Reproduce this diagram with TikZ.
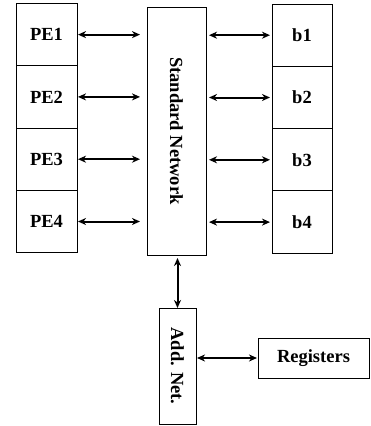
\documentclass[tikz,border=0pt]{standalone}
\usepackage{fontspec}
\setmainfont{Liberation Serif}
\usetikzlibrary{arrows.meta,positioning}

\begin{document}
\begin{tikzpicture}[x=1pt,y=-1pt,>={Stealth[length=8pt,width=7pt,inset=2.5pt]},
    font=\fontsize{18.5}{20}\selectfont\bfseries,
    cell/.style={draw, line width=1pt, outer sep=0pt, minimum width=61pt, minimum height=62.3pt},
    vbox/.style={draw, line width=1pt, outer sep=0pt, rotate=-90},
    link/.style={<->, line width=2pt}]

    % --- Canvas ---
    \useasboundingbox (0,0) rectangle (370,426);

    % --- Processing elements ---
    \node[cell] (PE1) at (46.5,34.6) {PE1};
    \node[cell, below=0pt of PE1] (PE2) {PE2};
    \node[cell, below=0pt of PE2] (PE3) {PE3};
    \node[cell, below=0pt of PE3] (PE4) {PE4};

    % --- Memory banks ---
    \node[cell, minimum width=60pt] (b1) at (302,35.2) {b1};
    \node[cell, minimum width=60pt, below=0pt of b1] (b2) {b2};
    \node[cell, minimum width=60pt, below=0pt of b2] (b3) {b3};
    \node[cell, minimum width=60pt, below=0pt of b3] (b4) {b4};

    % --- Networks (rotated: south = left side, north = right side, west = top) ---
    \node[vbox, minimum width=248pt, minimum height=59pt] (SN) at (176.5,131) {Standard Network};
    \node[vbox, minimum width=116pt, minimum height=37pt] (AN) at (177.5,366) {Add. Net.};
    \node[draw, line width=1pt, outer sep=0pt, minimum width=111pt, minimum height=40pt]
        (Reg) at (313.5,358) {Registers};

    % --- Connections ---
    \foreach \i in {1,...,4} {
        \draw[link, shorten <=1pt, shorten >=7pt] (PE\i.east) -- (PE\i.east -| SN.south);
        \draw[link, shorten <=3pt, shorten >=2pt] (b\i.west -| SN.north) -- (b\i.west);
    }
    \draw[link, shorten <=3pt] (SN.east -| AN.west) -- (AN.west);
    \draw[link, shorten <=1pt, shorten >=1pt] (AN.north |- Reg.west) -- (Reg.west);

\end{tikzpicture}
\end{document}
